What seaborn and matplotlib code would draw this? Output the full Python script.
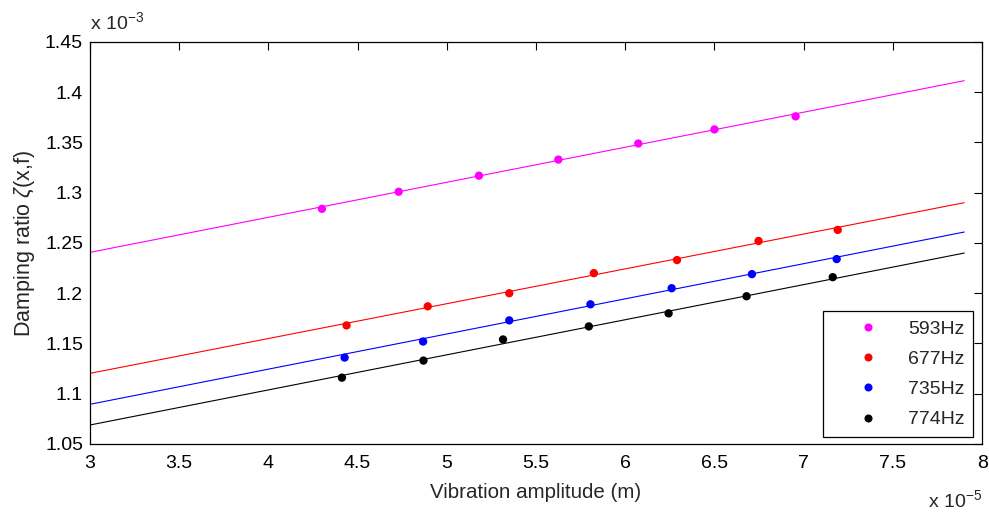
import matplotlib
matplotlib.use("Agg")
import matplotlib.pyplot as plt
import seaborn as sns
import pandas as pd
import numpy as np
from matplotlib.lines import Line2D

# Data (x in units of 1e-5 m, y in units of 1e-3)
series = ["593Hz", "677Hz", "735Hz", "774Hz"]
colors = ["#FF00FF", "#FF0000", "#0000FF", "#000000"]

x_593 = [4.30, 4.73, 5.18, 5.625, 6.073, 6.50, 6.955]
y_593 = [1.284, 1.301, 1.317, 1.333, 1.349, 1.363, 1.376]
x_677 = [4.438, 4.893, 5.350, 5.824, 6.290, 6.747, 7.191]
y_677 = [1.168, 1.187, 1.200, 1.220, 1.233, 1.252, 1.263]
x_735 = [4.427, 4.867, 5.350, 5.805, 6.260, 6.710, 7.185]
y_735 = [1.136, 1.152, 1.173, 1.189, 1.205, 1.219, 1.234]
x_774 = [4.412, 4.869, 5.315, 5.796, 6.243, 6.680, 7.163]
y_774 = [1.116, 1.133, 1.154, 1.167, 1.180, 1.197, 1.216]

# fitted lines: endpoints
fit_x = [3.0, 7.9]
fit_593 = [1.2407, 1.4115]
fit_677 = [1.1203, 1.2901]
fit_735 = [1.0895, 1.2609]
fit_774 = [1.0689, 1.2400]

xtick_labels = ["3", "3.5", "4", "4.5", "5", "5.5", "6", "6.5", "7", "7.5", "8"]
ytick_labels = ["1.05", "1.1", "1.15", "1.2", "1.25", "1.3", "1.35", "1.4", "1.45"]

xs = [x_593, x_677, x_735, x_774]
ys = [y_593, y_677, y_735, y_774]
fits = [fit_593, fit_677, fit_735, fit_774]

pts = pd.concat([pd.DataFrame({"x": a, "y": b, "s": s}) for a, b, s in zip(xs, ys, series)])
lines = pd.concat([pd.DataFrame({"x": fit_x, "y": f, "s": s}) for f, s in zip(fits, series)])

sns.set_style("white")
plt.rcParams["font.family"] = ["Liberation Sans", "DejaVu Sans"]
plt.rcParams["mathtext.fontset"] = "custom"
plt.rcParams["mathtext.it"] = "Liberation Sans:italic"
plt.rcParams["mathtext.rm"] = "Liberation Sans"

FS = 14

fig = plt.figure(figsize=(9.89, 5.14), dpi=100)
ax = fig.add_axes([0.091, 0.1362, 0.902, 0.7821])

pal = dict(zip(series, colors))
sns.lineplot(data=lines, x="x", y="y", hue="s", palette=pal, lw=0.8, ax=ax, legend=False)
sns.scatterplot(data=pts, x="x", y="y", hue="s", palette=pal, s=36, edgecolor="none",
                linewidth=0, ax=ax, legend=False)

ax.set_xlim(3, 8)
ax.set_ylim(1.05, 1.45)
ax.set_xticks(np.arange(3, 8.01, 0.5))
ax.set_yticks(np.arange(1.05, 1.451, 0.05))
ax.set_xticklabels(xtick_labels)
ax.set_yticklabels(ytick_labels)
ax.tick_params(direction="in", length=6, width=0.8, top=True, right=True,
               labelsize=FS, colors="black")
ax.tick_params(axis="x", pad=8)
ax.tick_params(axis="y", pad=5)
for sp in ax.spines.values():
    sp.set_color("black")
    sp.set_linewidth(0.9)

ax.set_xlabel("Vibration amplitude (m)", fontsize=14.8, labelpad=8)
ax.set_ylabel(r"Damping ratio $\zeta$(x,f)", fontsize=15.5, labelpad=6)

ax.text(0.0, 1.032, r"x 10$^{\mathregular{-3}}$", transform=ax.transAxes, fontsize=FS,
        ha="left", va="baseline")
ax.text(1.0, -0.157, r"x 10$^{\mathregular{-5}}$", transform=ax.transAxes, fontsize=FS,
        ha="right", va="baseline")

handles = [Line2D([], [], ls="none", marker="o", ms=5.8, mfc=c, mec="none") for c in colors]
leg = ax.legend(handles, series, loc="lower right", fontsize=FS, frameon=True,
                fancybox=False, edgecolor="black", framealpha=1, borderpad=0.45,
                labelspacing=0.65, handlelength=3.7, handletextpad=0.2,
                bbox_to_anchor=(0.99, 0.017), borderaxespad=0.0)
leg.get_frame().set_linewidth(0.9)

fig.savefig("out.png", dpi=100)
